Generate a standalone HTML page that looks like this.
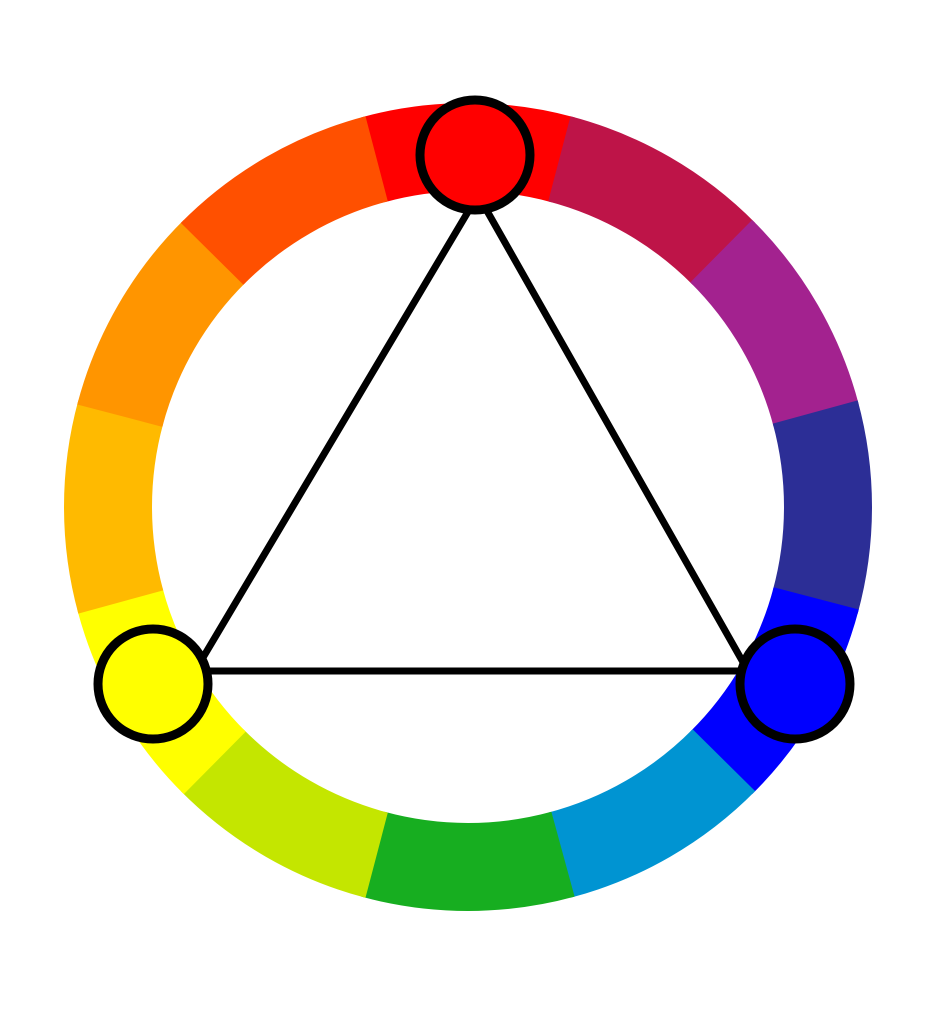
<!DOCTYPE html>
<html><head><meta charset="utf-8"><style>html,body{margin:0;padding:0;background:#fff;width:926px;height:1024px;overflow:hidden}</style></head>
<body>
<svg id="wheel" width="926" height="1024" viewBox="0 0 926 1024" xmlns="http://www.w3.org/2000/svg">
<rect width="926" height="1024" fill="#fff"/>
<g id="segs"></g>
<g id="tri"></g>
<g id="dots"></g>
</svg>
<script>
const segmentNames = ["red","crimson","purple","indigo","blue","cerulean","green","yellow-green","yellow","amber","orange","red-orange"];
const segmentColors = ["#FF0000","#BE1448","#A3228F","#2C2E96","#0000FF","#0094D2","#17AE20","#C4E600","#FFFF00","#FFBA00","#FF9500","#FF5000"];
const triadIndices = [0,4,8];
const cx=468, cy=507, R=404, r=316;
const markerPos = [[475,155],[795,684],[153,684]];
const triPts = [[478,195],[748,671],[195,671]];
const NS="http://www.w3.org/2000/svg";
function pt(a,rad){const t=(a-90)*Math.PI/180;return [cx+rad*Math.cos(t),cy+rad*Math.sin(t)];}
const segs=document.getElementById('segs');
const step=360/segmentColors.length;
segmentColors.forEach((c,i)=>{
  const a0=i*step-step/2-0.3,a1=i*step+step/2+0.3;
  const p1=pt(a0,R),p2=pt(a1,R),p3=pt(a1,r),p4=pt(a0,r);
  const p=document.createElementNS(NS,'path');
  p.setAttribute('d',`M${p1}A${R},${R} 0 0 1 ${p2}L${p3}A${r},${r} 0 0 0 ${p4}Z`);
  p.setAttribute('fill',c);
  
  
  segs.appendChild(p);
});
const tri=document.createElementNS(NS,'polygon');
tri.setAttribute('points',triPts.map(p=>p.join(',')).join(' '));
tri.setAttribute('fill','none');tri.setAttribute('stroke','#000');tri.setAttribute('stroke-width','7');


document.getElementById('tri').appendChild(tri);
triadIndices.forEach((idx,k)=>{
  const c=document.createElementNS(NS,'circle');
  c.setAttribute('cx',markerPos[k][0]);c.setAttribute('cy',markerPos[k][1]);c.setAttribute('r',55);
  c.setAttribute('fill',segmentColors[idx]);c.setAttribute('stroke','#000');c.setAttribute('stroke-width','9');
  
  
  document.getElementById('dots').appendChild(c);
});
</script>
</body></html>
